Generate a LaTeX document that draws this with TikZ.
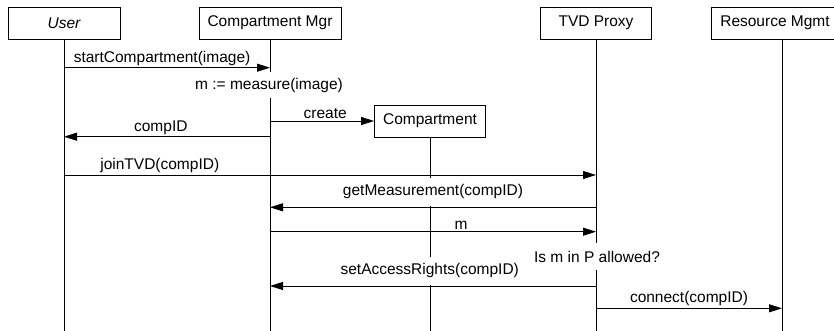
\documentclass[tikz,border=0pt]{standalone}
\usepackage{fontspec}
\setmainfont{Liberation Sans}
\usetikzlibrary{arrows.meta, positioning}

\begin{document}
\begin{tikzpicture}[
    x=1pt, y=-1pt,
    font=\fontsize{15.5}{18}\selectfont,
    head/.style={rectangle, draw, line width=0.8pt, minimum height=32pt, inner sep=2pt},
    life/.style={draw, line width=0.8pt},
    msg/.style={draw, line width=0.8pt, -{Triangle[length=13pt, width=8pt]}},
    lbl/.style={above, fill=white, inner sep=2pt},
    tall/.style={above=1pt, fill=white, minimum height=28pt, inner sep=2pt},
    note/.style={fill=white, inner sep=2pt, minimum height=26pt}
]

% Frame
\path[use as bounding box, clip] (0,0) rectangle (834,331);

% Lifeline heads
\node[head, minimum width=112pt] (user) at (64,23) {\itshape User};
\node[head, minimum width=142pt] (mgr) at (270,23) {Compartment Mgr};
\node[head, minimum width=111pt] (tvd) at (596,23) {TVD Proxy};
\node[head, minimum width=127pt] (res) at (775,23) {Resource Mgmt};
\node[head, minimum width=111pt] (comp) at (430,121) {Compartment};

\coordinate (bottom) at (0,331);
\coordinate (reslife) at ([xshift=7pt]res.south);

% Lifelines
\path[life] (user.south) -- (user |- bottom);
\path[life] (mgr.south) -- (mgr |- bottom);
\path[life] (tvd.south) -- (tvd |- bottom);
\path[life] (reslife) -- (reslife |- bottom);
\path[life] (comp.south) -- (comp |- bottom);

% Messages
\path[msg] (user |- 0,67.7) -- node[lbl, pos=.476] {startCompartment(image)} (mgr |- 0,67.7);
\node[note] (measure) at (269,85) {m := measure(image)};
\path[msg] (mgr |- comp) -- node[lbl, pos=.53] {create} (comp.west);
\path[msg] (mgr |- 0,136.7) -- node[lbl, pos=.53] {compID} (user |- 0,136.7);
\path[msg] (user |- 0,175) -- node[lbl, pos=.18] {joinTVD(compID)} (tvd |- 0,175);
\path[msg] (tvd |- 0,207.3) -- node[tall, pos=.5] {getMeasurement(compID)} (mgr |- 0,207.3);
\path[msg] (mgr |- 0,231.7) -- node[lbl, pos=.586] {m} (tvd |- 0,231.7);
\node[note, minimum height=27pt] (check) at (597,256.5) {Is m in P allowed?};
\path[msg] (tvd |- 0,286) -- node[tall, pos=.51] {setAccessRights(compID)} (mgr |- 0,286);
\path[msg] (tvd |- 0,308.3) -- node[lbl, pos=.5] {connect(compID)} (reslife |- 0,308.3);

\end{tikzpicture}
\end{document}
